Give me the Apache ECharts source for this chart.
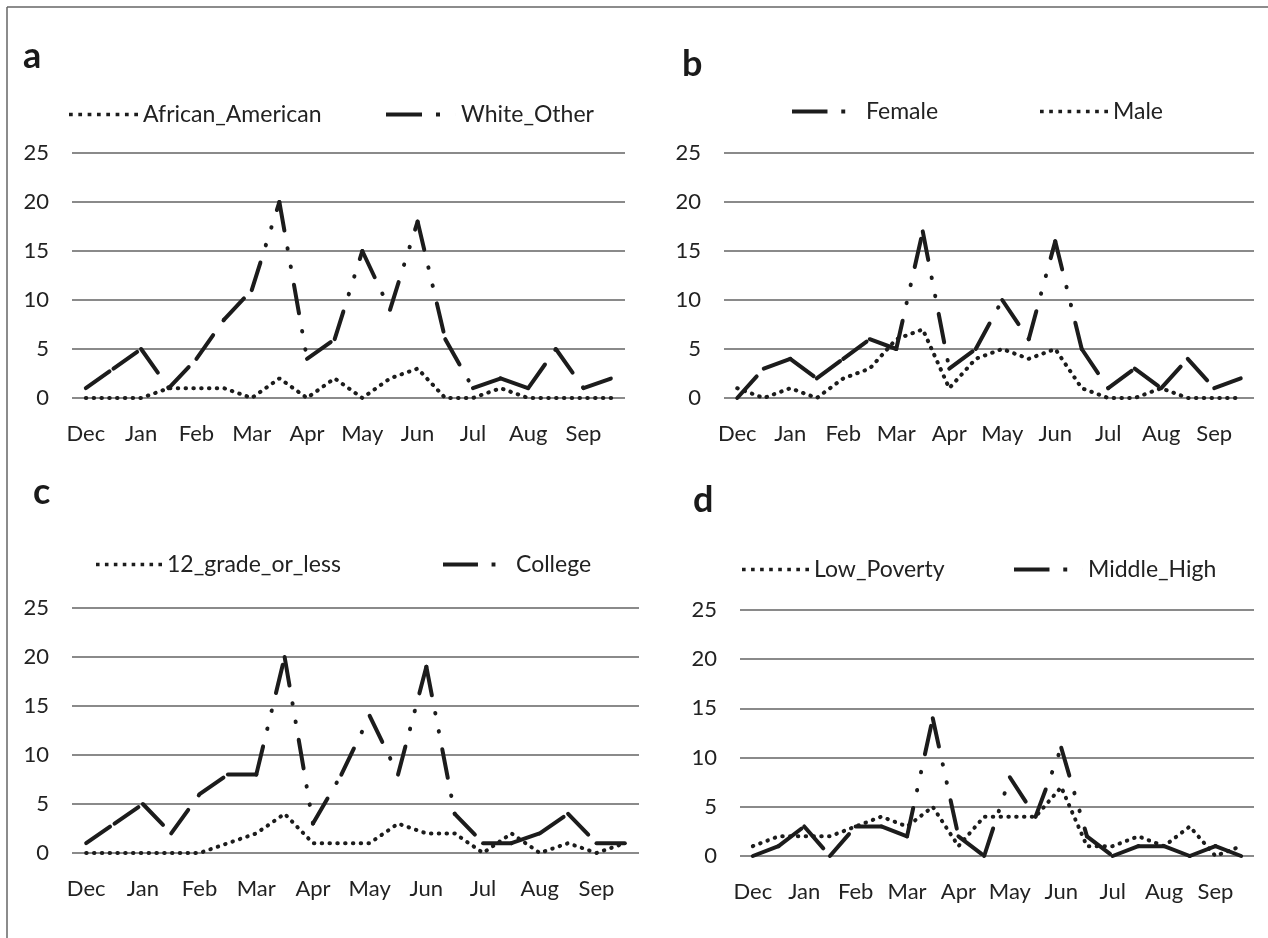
<!DOCTYPE html>
<html>
<head>
<meta charset="utf-8">
<script src="https://cdn.jsdelivr.net/npm/echarts@6/dist/echarts.min.js"></script>
<style>
  html, body { margin: 0; padding: 0; background: #fff; }
  #chart { width: 1268px; height: 938px; }
</style>
</head>
<body>
<div id="chart"></div>
<script>
// ---- data ----
const monthLabels = ['Dec','Jan','Feb','Mar','Apr','May','Jun','Jul','Aug','Sep'];
const periods = ['Dec 1','Dec 2','Jan 1','Jan 2','Feb 1','Feb 2','Mar 1','Mar 2','Apr 1','Apr 2',
                 'May 1','May 2','Jun 1','Jun 2','Jul 1','Jul 2','Aug 1','Aug 2','Sep 1','Sep 2'];
const yTicks = [0, 5, 10, 15, 20, 25];

// panel a
const africanAmerican = [0,0,0,1,1,1,0,2,0,2,0,2,3,0,0,1,0,0,0,0];
const whiteOther      = [1,3,5,1,4,8,11,20,4,6,15,9,18,6,1,2,1,5,1,2];
// panel b
const female = [0,3,4,2,4,6,5,17,3,5,10,6,16,5,1,3,1,4,1,2];
const male   = [1,0,1,0,2,3,6,7,1,4,5,4,5,1,0,0,1,0,0,0];
// panel c
const grade12OrLess = [0,0,0,0,0,1,2,4,1,1,1,3,2,2,0,2,0,1,0,1];
const college       = [1,3,5,2,6,8,8,20,3,8,14,8,19,4,1,1,2,4,1,1];
// panel d
const lowPoverty = [1,2,2,2,3,4,3,5,1,4,4,4,7,1,1,2,1,3,0,1];
const middleHigh = [0,1,3,0,3,3,2,14,2,0,8,4,11,2,0,1,1,0,1,0];

// ---- styles ----
const FONT = 'Lato';
const INK = '#1c1c1c';
const DASH_DOT = [29, 18, 0.5, 18, 0.5, 18];

const grids = [
  { left: 72,  top: 153, width: 553, height: 245 },
  { left: 724, top: 153, width: 530, height: 245 },
  { left: 72,  top: 608, width: 567, height: 245 },
  { left: 740, top: 610, width: 514, height: 246 }
];

function xAxisFor(i) {
  return {
    type: 'category', gridIndex: i, data: periods, boundaryGap: true,
    axisLine: { show: false }, axisTick: { show: false }, splitLine: { show: false },
    axisLabel: {
      interval: 1, margin: 25, fontSize: 22, fontFamily: FONT, color: '#222',
      formatter: function (v) { return v.split(' ')[0]; }
    }
  };
}
function yAxisFor(i) {
  return {
    type: 'value', gridIndex: i, min: yTicks[0], max: yTicks[yTicks.length - 1], interval: 5,
    axisLine: { show: false }, axisTick: { show: false },
    splitLine: { lineStyle: { color: '#8a8a8a', width: 2 } },
    axisLabel: { margin: 23, fontSize: 22, fontFamily: FONT, color: '#222' }
  };
}

function dottedSeries(name, values, idx) {
  return {
    name: name, type: 'line', xAxisIndex: idx, yAxisIndex: idx, data: values,
    symbol: 'none', silent: true, z: 2,
    itemStyle: { color: INK },
    lineStyle: { color: INK, width: 4, type: [0.5, 7.3], cap: 'round' }
  };
}
function dashDotSeries(name, values, idx) {
  return {
    name: name, type: 'custom', xAxisIndex: idx, yAxisIndex: idx, silent: true, z: 3,
    data: values.map(function (v, i) { return [i, v]; }),
    encode: { x: 0, y: 1 },
    itemStyle: { color: INK },
    renderItem: function (params, api) {
      const i = params.dataIndex;
      if (i >= values.length - 1) return null;
      const p0 = api.coord([i, values[i]]);
      const p1 = api.coord([i + 1, values[i + 1]]);
      return {
        type: 'line',
        shape: { x1: p0[0], y1: p0[1], x2: p1[0], y2: p1[1] },
        style: { stroke: INK, lineWidth: 4, lineDash: DASH_DOT, lineCap: 'round', fill: null }
      };
    }
  };
}

// legend icons
const dotIcon = 'path://' + [0,1,2,3,4,5,6,7].map(function (k) {
  return 'M' + (k * 10) + ',0h4v4h-4Z';
}).join(' ');
const dashDotIcon = 'path://M0,0H36V4H0Z M50,0H54V4H50Z M70,0H70.01V4H70Z';

function legendFor(name, icon, left, cy, w) {
  return {
    data: [{ name: name, icon: icon, itemStyle: { color: INK } }],
    left: left, top: cy - 12, padding: 0, itemGap: 0,
    itemWidth: w, itemHeight: 4, selectedMode: false,
    textStyle: { fontSize: 23, fontFamily: FONT, color: '#222' }
  };
}

function letter(t, x, y) {
  return {
    type: 'text', left: x, top: y,
    style: { text: t, font: 'bold 36px ' + FONT, fill: '#1a1a1a' }
  };
}

const chart = echarts.init(document.getElementById('chart'), null, { renderer: 'canvas' });
chart.setOption({
  backgroundColor: '#ffffff',
  animation: false,
  grid: grids,
  xAxis: [0,1,2,3].map(xAxisFor),
  yAxis: [0,1,2,3].map(yAxisFor),
  legend: [
    legendFor('African_American', dotIcon, 69, 115, 69),
    legendFor('White_Other', dashDotIcon, 386, 115, 70),
    legendFor('Female', dashDotIcon, 792, 112, 69),
    legendFor('Male', dotIcon, 1040, 112, 68),
    legendFor('12_grade_or_less', dotIcon, 96, 565, 66),
    legendFor('College', dashDotIcon, 443, 565, 68),
    legendFor('Low_Poverty', dotIcon, 742, 570, 67),
    legendFor('Middle_High', dashDotIcon, 1014, 570, 69)
  ],
  graphic: [
    { type: 'line', shape: { x1: 7, y1: 7, x2: 1268, y2: 7 }, style: { stroke: '#666', lineWidth: 1.5 } },
    { type: 'line', shape: { x1: 7, y1: 7, x2: 7, y2: 938 }, style: { stroke: '#666', lineWidth: 1.5 } },
    letter('a', 23, 38),
    letter('b', 682, 46),
    letter('c', 33, 474),
    letter('d', 693, 482)
  ],
  series: [
    dottedSeries('African_American', africanAmerican, 0),
    dashDotSeries('White_Other', whiteOther, 0),
    dashDotSeries('Female', female, 1),
    dottedSeries('Male', male, 1),
    dottedSeries('12_grade_or_less', grade12OrLess, 2),
    dashDotSeries('College', college, 2),
    dottedSeries('Low_Poverty', lowPoverty, 3),
    dashDotSeries('Middle_High', middleHigh, 3)
  ]
});
</script>
</body>
</html>
